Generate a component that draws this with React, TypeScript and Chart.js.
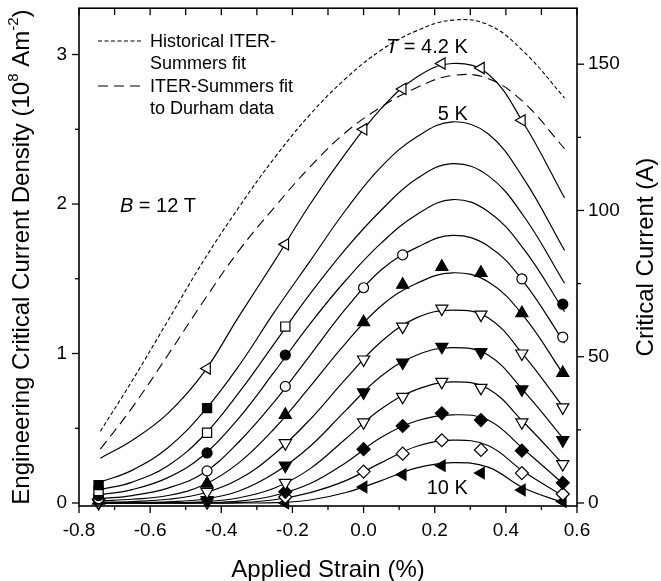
import React, { useEffect, useRef } from "react";
import { Chart, registerables } from "chart.js";

Chart.register(...registerables);

// ---------- data ----------
// strain grid (%) at which the fitted curves were read
const STRAIN = [-0.74, -0.65, -0.55, -0.45, -0.35, -0.25, -0.15, -0.05, 0.05, 0.15, 0.25, 0.35, 0.45, 0.565];

// engineering critical current density (1e8 A m^-2), fitted curves from 4.2 K (top) to 10 K (bottom)
const FIT_4_2K = [0.30, 0.42, 0.60, 0.87, 1.25, 1.62, 2.00, 2.34, 2.64, 2.85, 2.94, 2.87, 2.54, 2.04];
const FIT_5K = [0.14, 0.22, 0.37, 0.61, 0.92, 1.28, 1.62, 1.96, 2.25, 2.45, 2.55, 2.47, 2.17, 1.69];
const FIT_5_5K = [0.09, 0.14, 0.25, 0.45, 0.74, 1.07, 1.40, 1.70, 1.96, 2.17, 2.27, 2.19, 1.92, 1.47];
const FIT_6K = [0.055, 0.09, 0.17, 0.32, 0.57, 0.88, 1.20, 1.49, 1.74, 1.93, 2.03, 1.95, 1.70, 1.28];
const FIT_6_5K = [0.03, 0.05, 0.10, 0.20, 0.41, 0.68, 0.99, 1.30, 1.56, 1.71, 1.79, 1.72, 1.48, 1.07];
const FIT_7K = [0.015, 0.025, 0.05, 0.12, 0.27, 0.50, 0.78, 1.07, 1.32, 1.47, 1.54, 1.48, 1.25, 0.85];
const FIT_7_5K = [0.005, 0.01, 0.025, 0.065, 0.16, 0.33, 0.56, 0.83, 1.08, 1.24, 1.29, 1.24, 0.99, 0.63];
const FIT_8K = [0.0, 0.003, 0.008, 0.025, 0.08, 0.20, 0.38, 0.62, 0.85, 0.99, 1.04, 0.99, 0.75, 0.42];
const FIT_8_5K = [0.0, 0.0, 0.002, 0.008, 0.035, 0.10, 0.23, 0.43, 0.63, 0.76, 0.81, 0.765, 0.54, 0.25];
const FIT_9K = [0.0, 0.0, 0.0, 0.002, 0.012, 0.05, 0.13, 0.27, 0.44, 0.55, 0.59, 0.555, 0.36, 0.12];
const FIT_9_5K = [0.0, 0.0, 0.0, 0.0, 0.003, 0.022, 0.07, 0.15, 0.27, 0.38, 0.42, 0.385, 0.21, 0.04];
const FIT_10K = [0.0, 0.0, 0.0, 0.0, 0.0, 0.003, 0.02, 0.07, 0.15, 0.235, 0.27, 0.24, 0.10, 0.0];

const HISTORICAL_FIT = [0.48, 0.82, 1.22, 1.62, 1.98, 2.31, 2.60, 2.84, 3.03, 3.16, 3.23, 3.20, 3.02, 2.71];
const DURHAM_FIT = [0.36, 0.64, 0.99, 1.35, 1.69, 1.98, 2.25, 2.48, 2.65, 2.78, 2.86, 2.84, 2.68, 2.37];

// measured points [strain, Je]
const PTS_4_2K = [[-0.44, 0.90], [-0.22, 1.73], [0.0, 2.50], [0.11, 2.77], [0.22, 2.94], [0.33, 2.91], [0.445, 2.56]];
const PTS_5K = [[-0.745, 0.12], [-0.44, 0.635]];
const PTS_5_5K = [[-0.745, 0.08], [-0.44, 0.47], [-0.22, 1.18]];
const PTS_6K = [[-0.745, 0.05], [-0.44, 0.335], [-0.22, 0.99], [0.56, 1.33]];
const PTS_6_5K = [[-0.745, 0.03], [-0.44, 0.215], [-0.22, 0.78], [0.0, 1.44], [0.11, 1.66], [0.445, 1.50], [0.56, 1.11]];
const PTS_7K = [[-0.745, 0.015], [-0.44, 0.13], [-0.22, 0.59], [0.0, 1.21], [0.11, 1.46], [0.22, 1.58], [0.33, 1.54], [0.445, 1.27], [0.56, 0.87]];
const PTS_7_5K = [[-0.745, 0.005], [-0.44, 0.075], [-0.22, 0.40], [0.0, 0.96], [0.11, 1.18], [0.22, 1.30], [0.33, 1.26], [0.445, 1.00], [0.56, 0.64]];
const PTS_8K = [[-0.745, 0.0], [-0.44, 0.02], [-0.22, 0.25], [0.0, 0.74], [0.11, 0.94], [0.22, 1.045], [0.33, 1.01], [0.445, 0.76], [0.56, 0.42]];
const PTS_8_5K = [[-0.44, 0.005], [-0.22, 0.135], [0.0, 0.54], [0.11, 0.71], [0.22, 0.81], [0.33, 0.77], [0.445, 0.54], [0.56, 0.26]];
const PTS_9K = [[-0.22, 0.075], [0.0, 0.36], [0.11, 0.515], [0.22, 0.60], [0.33, 0.555], [0.445, 0.35], [0.56, 0.135]];
const PTS_9_5K = [[-0.22, 0.04], [0.0, 0.21], [0.11, 0.33], [0.22, 0.42], [0.33, 0.355], [0.445, 0.20], [0.56, 0.06]];
const PTS_10K = [[-0.22, 0.0], [0.0, 0.107], [0.11, 0.19], [0.22, 0.25], [0.33, 0.20], [0.445, 0.087], [0.56, 0.01]];

// axes
const X_MIN = -0.8;
const X_MAX = 0.6;
const Y_MIN = -0.02;
const Y_MAX = 3.31;
const AMPS_PER_UNIT = 51.1; // critical current (A) per 1e8 A m^-2

const FITS = [FIT_4_2K, FIT_5K, FIT_5_5K, FIT_6K, FIT_6_5K, FIT_7K, FIT_7_5K, FIT_8K, FIT_8_5K, FIT_9K, FIT_9_5K, FIT_10K];
const POINTS = [PTS_4_2K, PTS_5K, PTS_5_5K, PTS_6K, PTS_6_5K, PTS_7K, PTS_7_5K, PTS_8K, PTS_8_5K, PTS_9K, PTS_9_5K, PTS_10K];

// ---------- styles ----------
const MARKER_STYLES = [
  { style: "triangle", rot: -90, fill: false, r: 6.5 },
  { style: "rect", rot: 0, fill: true, r: 6.5 },
  { style: "rect", rot: 0, fill: false, r: 6.5 },
  { style: "circle", rot: 0, fill: true, r: 5 },
  { style: "circle", rot: 0, fill: false, r: 5 },
  { style: "triangle", rot: 0, fill: true, r: 7 },
  { style: "triangle", rot: 180, fill: false, r: 7 },
  { style: "triangle", rot: 180, fill: true, r: 7 },
  { style: "triangle", rot: 180, fill: false, r: 7 },
  { style: "rectRot", rot: 0, fill: true, r: 6.5 },
  { style: "rectRot", rot: 0, fill: false, r: 6.5 },
  { style: "triangle", rot: -90, fill: true, r: 6.5 },
];

const FONT = "'Liberation Sans', Arial, Helvetica, sans-serif";
const HIST_DASH = [4, 2.5];
const DURHAM_DASH = [10, 6];

type Seg = { t: string; sup?: boolean; it?: boolean };

function drawRich(ctx: CanvasRenderingContext2D, segs: Seg[], x: number, y: number, size: number, align: "left" | "center" | "right") {
  const fontFor = (s: Seg) => `${s.it ? "italic " : ""}${s.sup ? Math.round(size * 0.62) : size}px ${FONT}`;
  const widths = segs.map((s) => {
    ctx.font = fontFor(s);
    return ctx.measureText(s.t).width;
  });
  const total = widths.reduce((a, b) => a + b, 0);
  let cx = align === "left" ? x : align === "center" ? x - total / 2 : x - total;
  ctx.textAlign = "left";
  ctx.textBaseline = "alphabetic";
  segs.forEach((s, i) => {
    ctx.font = fontFor(s);
    ctx.fillText(s.t, cx, s.sup ? y - size * 0.45 : y);
    cx += widths[i];
  });
}

const decorPlugin = {
  id: "decor",
  afterDraw(chart: any) {
    const { ctx, chartArea: a } = chart;
    const xs = chart.scales.x;
    const ys = chart.scales.y;
    const y2 = chart.scales.y2;
    ctx.save();
    ctx.strokeStyle = "#000";
    ctx.fillStyle = "#000";
    ctx.setLineDash([]);
    ctx.lineWidth = 1.6;
    ctx.strokeRect(a.left, a.top, a.right - a.left, a.bottom - a.top);
    ctx.lineWidth = 1.3;
    const line = (x1: number, yy1: number, x2: number, yy2: number) => {
      ctx.beginPath();
      ctx.moveTo(x1, yy1);
      ctx.lineTo(x2, yy2);
      ctx.stroke();
    };
    const MAJ = 7;
    const MIN = 4;
    // x ticks (bottom outward, top inward)
    const xv = xs.ticks.map((t: any) => t.value);
    xv.forEach((v: number, i: number) => {
      const p = xs.getPixelForValue(v);
      line(p, a.bottom, p, a.bottom + MAJ);
      line(p, a.top, p, a.top + MAJ);
      if (i < xv.length - 1) {
        const m = xs.getPixelForValue((v + xv[i + 1]) / 2);
        line(m, a.bottom, m, a.bottom + MIN);
        line(m, a.top, m, a.top + MAJ);
      }
    });
    // left y ticks
    const yv = ys.ticks.map((t: any) => t.value);
    yv.forEach((v: number) => {
      const p = ys.getPixelForValue(v);
      line(a.left - MAJ, p, a.left, p);
      const mv = v + 0.5;
      if (mv <= ys.max) {
        const m = ys.getPixelForValue(mv);
        line(a.left - MIN, m, a.left, m);
      }
    });
    // right y ticks
    const rv = y2.ticks.map((t: any) => t.value);
    rv.forEach((v: number) => {
      const p = y2.getPixelForValue(v);
      line(a.right, p, a.right + MAJ, p);
      const mv = v + 25;
      if (mv <= y2.max) {
        const m = y2.getPixelForValue(mv);
        line(a.right, m, a.right + MIN, m);
      }
    });

    // axis titles
    drawRich(ctx, [{ t: "Applied Strain (%)" }], (a.left + a.right) / 2, 577, 24, "center");
    ctx.save();
    ctx.translate(29, (a.top + a.bottom) / 2);
    ctx.rotate(-Math.PI / 2);
    drawRich(
      ctx,
      [
        { t: "Engineering Critical Current Density (10" },
        { t: "8", sup: true },
        { t: " Am" },
        { t: "-2", sup: true },
        { t: ")" },
      ],
      0,
      0,
      24,
      "center"
    );
    ctx.restore();
    ctx.save();
    ctx.translate(653, (a.top + a.bottom) / 2);
    ctx.rotate(-Math.PI / 2);
    drawRich(ctx, [{ t: "Critical Current (A)" }], 0, 0, 24, "center");
    ctx.restore();

    // legend
    const lx = a.left + 19;
    ctx.lineWidth = 1.1;
    ctx.setLineDash(HIST_DASH);
    line(lx, 41, lx + 45, 41);
    ctx.setLineDash(DURHAM_DASH);
    line(lx, 86, lx + 42, 86);
    ctx.setLineDash([]);
    drawRich(ctx, [{ t: "Historical ITER-" }], lx + 52, 47, 18, "left");
    drawRich(ctx, [{ t: "Summers fit" }], lx + 52, 69, 18, "left");
    drawRich(ctx, [{ t: "ITER-Summers fit" }], lx + 52, 92, 18, "left");
    drawRich(ctx, [{ t: "to Durham data" }], lx + 52, 114, 18, "left");

    // annotations (placed in data coordinates)
    const X = (v: number) => xs.getPixelForValue(v);
    const Y = (v: number) => ys.getPixelForValue(v);
    drawRich(ctx, [{ t: "T", it: true }, { t: " = 4.2 K" }], X(0.293), Y(3.01), 20, "right");
    drawRich(ctx, [{ t: "5 K" }], X(0.293), Y(2.56), 20, "right");
    drawRich(ctx, [{ t: "10 K" }], X(0.293), Y(0.06), 20, "right");
    drawRich(ctx, [{ t: "B", it: true }, { t: " = 12 T" }], X(-0.685), Y(1.95), 20, "left");
    ctx.restore();
  },
};

export default function App() {
  const ref = useRef<HTMLCanvasElement>(null);
  useEffect(() => {
    const canvas = ref.current;
    if (!canvas) return;
    const datasets: any[] = [];
    POINTS.forEach((pts, i) => {
      const st = MARKER_STYLES[i];
      datasets.push({
        label: "pts" + i,
        data: pts.map(([x, y]) => ({ x, y })),
        showLine: false,
        order: 0,
        pointStyle: st.style,
        pointRotation: st.rot,
        pointRadius: st.r,
        pointHoverRadius: st.r,
        pointBackgroundColor: st.fill ? "#000" : "#fff",
        pointBorderColor: "#000",
        pointBorderWidth: 1.2,
        clip: false,
        yAxisID: "y",
      });
    });
    FITS.forEach((vals, i) => {
      datasets.push({
        label: "fit" + i,
        data: STRAIN.map((x, j) => ({ x, y: vals[j] })),
        borderColor: "#000",
        borderWidth: 1.2,
        pointRadius: 0,
        tension: 0.4,
        fill: false,
        order: 1,
        yAxisID: "y",
      });
    });
    datasets.push({
      label: "Historical ITER-Summers fit",
      data: STRAIN.map((x, j) => ({ x, y: HISTORICAL_FIT[j] })),
      borderColor: "#000",
      borderWidth: 1.1,
      borderDash: HIST_DASH,
      pointRadius: 0,
      tension: 0.4,
      fill: false,
      order: 1,
      yAxisID: "y",
    });
    datasets.push({
      label: "ITER-Summers fit to Durham data",
      data: STRAIN.map((x, j) => ({ x, y: DURHAM_FIT[j] })),
      borderColor: "#000",
      borderWidth: 1.1,
      borderDash: DURHAM_DASH,
      pointRadius: 0,
      tension: 0.4,
      fill: false,
      order: 1,
      yAxisID: "y",
    });

    const tickFont = { family: FONT, size: 19 };
    const noPad = (s: any) => {
      s.paddingTop = 0;
      s.paddingBottom = 0;
      s.paddingLeft = 0;
      s.paddingRight = 0;
    };
    const chart = new Chart(canvas, {
      type: "line",
      data: { datasets },
      options: {
        animation: false,
        responsive: false,
        maintainAspectRatio: false,
        events: [],
        layout: { padding: { top: 8, left: 0, right: 0, bottom: 0 } },
        plugins: { legend: { display: false }, tooltip: { enabled: false } },
        scales: {
          x: {
            type: "linear",
            min: X_MIN,
            max: X_MAX,
            grid: { display: false, drawTicks: false },
            border: { display: false },
            ticks: {
              stepSize: 0.2,
              padding: 13,
              color: "#000",
              font: tickFont,
              maxRotation: 0,
              callback: (v: any) => (Math.abs(v) < 1e-9 ? "0.0" : Number(v).toFixed(1)),
            },
            afterFit: (s: any) => {
              s.height = 75;
              noPad(s);
            },
          },
          y: {
            type: "linear",
            position: "left",
            min: Y_MIN,
            max: Y_MAX,
            grid: { display: false, drawTicks: false },
            border: { display: false },
            ticks: {
              stepSize: 1,
              includeBounds: false,
              padding: 12,
              color: "#000",
              font: tickFont,
              callback: (v: any) => (Math.abs(v - Math.round(v)) < 1e-9 ? String(Math.round(v)) : ""),
            },
            afterFit: (s: any) => {
              s.width = 79;
              noPad(s);
            },
          },
          y2: {
            type: "linear",
            position: "right",
            min: Y_MIN * AMPS_PER_UNIT,
            max: Y_MAX * AMPS_PER_UNIT,
            grid: { display: false, drawTicks: false },
            border: { display: false },
            ticks: {
              stepSize: 50,
              includeBounds: false,
              padding: 11,
              color: "#000",
              font: tickFont,
              callback: (v: any) => (Math.abs(v / 50 - Math.round(v / 50)) < 1e-9 ? String(Math.round(v)) : ""),
            },
            afterFit: (s: any) => {
              s.width = 84;
              noPad(s);
            },
          },
        },
      },
      plugins: [decorPlugin],
    } as any);
    return () => chart.destroy();
  }, []);

  return (
    <div style={{ position: "fixed", left: 0, top: 0, width: 661, height: 581, background: "#fff" }}>
      <canvas ref={ref} width={661} height={581} style={{ display: "block" }} />
    </div>
  );
}
